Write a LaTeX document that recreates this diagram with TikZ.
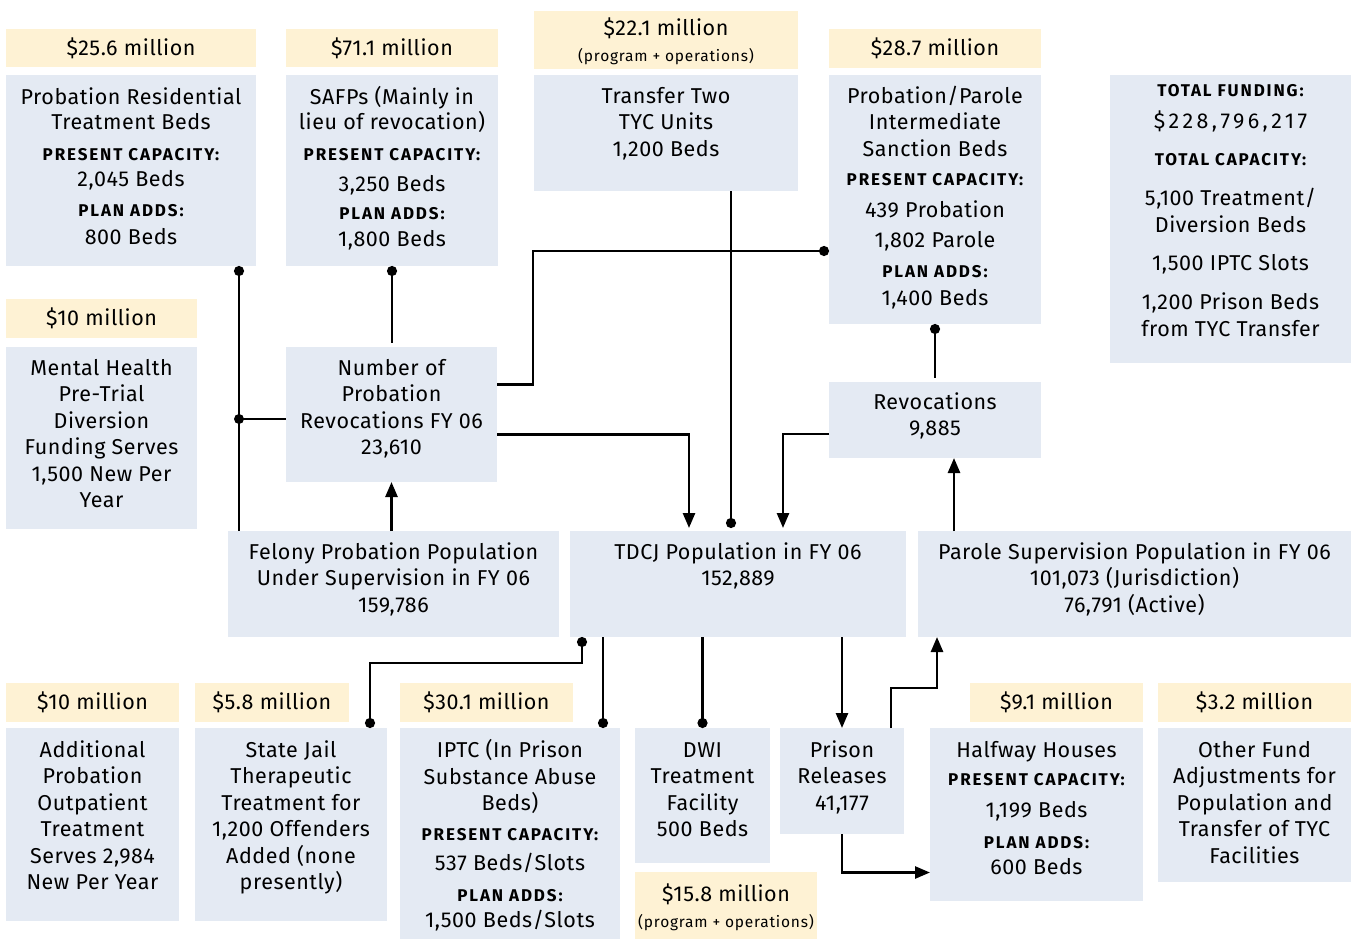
\documentclass[tikz,border=0pt]{standalone}
\usepackage{fontspec}
\setmainfont{Fira Sans}[LetterSpace=2.5]
\usetikzlibrary{arrows.meta,calc,fit}
\definecolor{boxblue}{RGB}{228,234,243}
\definecolor{boxgold}{RGB}{254,242,212}
% small bold capitals for the capacity headings
\newcommand\hd[1]{{\fontsize{17}{26}\selectfont\bfseries\addfontfeature{LetterSpace=11}#1}}
% smaller note line under a funding amount
\newcommand\sm[1]{{\fontsize{15.5}{26}\selectfont\addfontfeature{LetterSpace=5}#1}}
% widely tracked figures
\newcommand\wide[1]{{\addfontfeature{LetterSpace=16}#1}}
\tikzset{
  panel/.style={fill=boxblue, inner sep=0pt, outer sep=0pt},
  money/.style={fill=boxgold, inner sep=0pt, outer sep=0pt},
  txt/.style={font=\fontsize{21.5}{26}\selectfont, align=center, inner sep=0pt, anchor=north},
  link/.style={line width=2.6pt},
  arr/.style={link, -{Triangle[length=15pt,width=12pt]}},
  dotend/.style={link, -{Circle[length=10pt]}},
  dotstart/.style={link, {Circle[length=10pt]}-},
  dotboth/.style={link, {Circle[length=10pt]}-{Circle[length=10pt]}},
}
\begin{document}
\begin{tikzpicture}[x=1pt,y=-1pt]
\useasboundingbox (0,0) rectangle (1351,939);

% ---------- top row ----------
\node[panel, fit={(6,75)(256,266)}] (prt) {};
\node[money, fit={(6,29)(256,67)}] (prtm) {};
\node[txt] (prtmt) at ($(prtm.north)+(0,8.3)$) {\strut\$25.6 million};
\node[txt] (prtt) at ($(prt.north)+(0,11)$) {\strut Probation Residential\\[-1pt]Treatment Beds\\[5.3pt]\hd{PRESENT CAPACITY:}\\[0pt]2,045 Beds\\[3.7pt]\hd{PLAN ADDS:}\\[2pt]800 Beds};

\node[panel, fit={(286,75)(498,266)}] (safp) {};
\node[money, fit={(286,29)(498,67)}] (safpm) {};
\node[txt] (safpmt) at ($(safpm.north)+(0,8.3)$) {\strut\$71.1 million};
\node[txt] (safpt) at ($(safp.north)+(0,11)$) {\strut SAFPs (Mainly in\\[-1pt]lieu of revocation)\\[5.3pt]\hd{PRESENT CAPACITY:}\\[4.3pt]3,250 Beds\\[2pt]\hd{PLAN ADDS:}\\[1pt]1,800 Beds};

\node[panel, fit={(534,75)(798,191)}] (tyc) {};
\node[money, fit={(534,11)(798,69)}] (tycm) {};
\node[txt] (tycmt) at ($(tycm.north)+(0,6.6)$) {\strut\$22.1 million\\\sm{(program + operations)}};
\node[txt] (tyct) at ($(tyc.north)+(0,10)$) {\strut Transfer Two\\TYC Units\\[1pt]1,200 Beds};

\node[panel, fit={(829,75)(1041,324)}] (ppi) {};
\node[money, fit={(829,29)(1041,68)}] (ppim) {};
\node[txt] (ppimt) at ($(ppim.north)+(0,8.3)$) {\strut\$28.7 million};
\node[txt] (ppit) at ($(ppi.north)+(0,10)$) {\strut Probation/Parole\\Intermediate\\[1.3pt]Sanction Beds\\[3pt]\hd{PRESENT CAPACITY:}\\[6pt]439 Probation\\[3.3pt]1,802 Parole\\[4.4pt]\hd{PLAN ADDS:}\\[2pt]1,400 Beds};

\node[panel, fit={(1110,75)(1351,363)}] (tot) {};
\node[txt] (tott) at ($(tot.north)+(0,3.3)$) {\strut\hd{TOTAL FUNDING:}\\[6pt]\wide{\$228,796,217}\\[11pt]\hd{TOTAL CAPACITY:}\\[14pt]5,100 Treatment/\\[1pt]Diversion Beds\\[12pt]1,500 IPTC Slots\\[13pt]1,200 Prison Beds\\[1pt]from TYC Transfer};

% ---------- middle rows ----------
\node[panel, fit={(6,347)(197,529)}] (mh) {};
\node[money, fit={(6,299)(197,338)}] (mhm) {};
\node[txt] (mhmt) at ($(mhm.north)+(0,8.3)$) {\strut\$10 million};
\node[txt] (mht) at ($(mh.north)+(0,9.6)$) {\strut Mental Health\\[0.5pt]Pre-Trial\\[0.5pt]Diversion\\[0.5pt]Funding Serves\\[0.5pt]1,500 New Per\\[0.5pt]Year};

\node[panel, fit={(286,347)(497,482)}] (num) {};
\node[txt] (numt) at ($(num.north)+(0,9.6)$) {\strut Number of\\[0.5pt]Probation\\[0.5pt]Revocations FY 06\\[0.5pt]23,610};

\node[panel, fit={(829,382)(1041,458)}] (rev) {};
\node[txt] (revt) at ($(rev.north)+(0,9)$) {\strut Revocations\\[0.5pt]9,885};

\node[panel, fit={(228,531)(559,637)}] (felony) {};
\node[txt] (felonyt) at ($(felony.north)+(0,10)$) {\strut Felony Probation Population\\[0.5pt]Under Supervision in FY 06\\[0.5pt]159,786};

\node[panel, fit={(570,531)(906,637)}] (tdcj) {};
\node[txt] (tdcjt) at ($(tdcj.north)+(0,10)$) {\strut TDCJ Population in FY 06\\[0.5pt]152,889};

\node[panel, fit={(918,531)(1351,637)}] (parole) {};
\node[txt] (parolet) at ($(parole.north)+(0,10)$) {\strut Parole Supervision Population in FY 06\\[0.5pt]101,073 (Jurisdiction)\\[0.5pt]76,791 (Active)};

% ---------- bottom row ----------
\node[panel, fit={(6,728)(179,921)}] (aop) {};
\node[money, fit={(6,683)(179,722)}] (aopm) {};
\node[txt] (aopmt) at ($(aopm.north)+(0,8.3)$) {\strut\$10 million};
\node[txt] (aopt) at ($(aop.north)+(0,10.6)$) {\strut Additional\\[0.5pt]Probation\\[0.5pt]Outpatient\\[0.5pt]Treatment\\[0.5pt]Serves 2,984\\[0.5pt]New Per Year};

\node[panel, fit={(195,728)(387,921)}] (sj) {};
\node[money, fit={(195,683)(349,722)}] (sjm) {};
\node[txt] (sjmt) at ($(sjm.north)+(0,8.3)$) {\strut\$5.8 million};
\node[txt] (sjt) at ($(sj.north)+(0,10.6)$) {\strut State Jail\\[0.5pt]Therapeutic\\[0.5pt]Treatment for\\[0.5pt]1,200 Offenders\\[0.5pt]Added (none\\[0.5pt]presently)};

\node[panel, fit={(400,728)(620,939)}] (iptc) {};
\node[money, fit={(400,683)(573,722)}] (iptcm) {};
\node[txt] (iptcmt) at ($(iptcm.north)+(0,8.3)$) {\strut\$30.1 million};
\node[txt] (iptct) at ($(iptc.north)+(0,10.6)$) {\strut IPTC (In Prison\\[1.4pt]Substance Abuse\\Beds)\\[3.6pt]\hd{PRESENT CAPACITY:}\\[4.4pt]537 Beds/Slots\\[5.3pt]\hd{PLAN ADDS:}\\[-0.7pt]1,500 Beds/Slots};

\node[panel, fit={(635,728)(770,863)}] (dwi) {};
\node[txt] (dwit) at ($(dwi.north)+(0,10.6)$) {\strut DWI\\[0.5pt]Treatment\\[0.5pt]Facility\\[0.5pt]500 Beds};
\node[money, fit={(635,872)(817,940)}] (dwim) {};
\node[txt] (dwimt) at ($(dwim.north)+(0,10.6)$) {\strut\$15.8 million\\[0.5pt]\sm{(program + operations)}};

\node[panel, fit={(780,728)(904,834)}] (pr) {};
\node[txt] (prt2) at ($(pr.north)+(0,10.6)$) {\strut Prison\\[0.5pt]Releases\\[0.5pt]41,177};

\node[panel, fit={(930,728)(1143,901)}] (hw) {};
\node[money, fit={(970,683)(1143,722)}] (hwm) {};
\node[txt] (hwmt) at ($(hwm.north)+(0,8.3)$) {\strut\$9.1 million};
\node[txt] (hwt) at ($(hw.north)+(0,10.6)$) {\strut Halfway Houses\\[2.7pt]\hd{PRESENT CAPACITY:}\\[5.3pt]1,199 Beds\\[5pt]\hd{PLAN ADDS:}\\[0.4pt]600 Beds};

\node[panel, fit={(1158,728)(1351,882)}] (ofa) {};
\node[money, fit={(1158,683)(1351,722)}] (ofam) {};
\node[txt] (ofamt) at ($(ofam.north)+(0,8.3)$) {\strut\$3.2 million};
\node[txt] (ofat) at ($(ofa.north)+(0,10.6)$) {\strut Other Fund\\[0.5pt]Adjustments for\\[0.5pt]Population and\\[0.5pt]Transfer of TYC\\[0.5pt]Facilities};

% ---------- connectors ----------
\coordinate (j1) at (239,419);
\draw[dotstart] (prt.south -| j1) -- (felony.north -| j1);
\fill (j1) circle (5pt);
\draw[link] (j1) -- (num.west |- j1);

\draw[dotstart, shorten >=4pt] (safp.south) -- (safp.south |- num.north);
\draw[arr] (num.south |- felony.north) -- (num.south);

\coordinate (w1) at (533,251);
\draw[dotend] ([yshift=30pt]num.east) -| (w1) -- (ppi.west |- w1);
\draw[arr, shorten >=3pt] ([yshift=-20pt]num.east) -| ($(tdcj.north west)+(119,0)$);

\draw[dotend, shorten >=3pt] ($(tyc.south)+(65,0)$) -- ($(tdcj.north west)+(161,0)$);
\draw[arr, shorten >=3pt] ([yshift=-14pt]rev.west) -| ($(tdcj.north west)+(213,0)$);

\draw[dotstart, shorten >=4pt] (ppi.south) -- (rev.north);
\coordinate (c1) at ($(parole.north west)+(36,0)$);
\draw[arr] (c1) -- (rev.south -| c1);

\coordinate (w2) at (370,663);
\draw[dotboth] ($(tdcj.south west)+(12,0)$) |- (w2) -- (sj.north -| w2);
\coordinate (c2) at ($(tdcj.south west)+(33,0)$);
\draw[dotend] (c2) -- (iptc.north -| c2);
\draw[dotend] (tdcj.south -| dwi.north) -- (dwi.north);
\draw[arr] (tdcj.south -| pr.north) -- (pr.north);

\coordinate (w3) at (937,688);
\draw[arr] ($(pr.north west)+(111,0)$) |- (w3) -- (parole.south -| w3);
\draw[arr] (pr.south) |- ([yshift=-58pt]hw.west);
\end{tikzpicture}
\end{document}
